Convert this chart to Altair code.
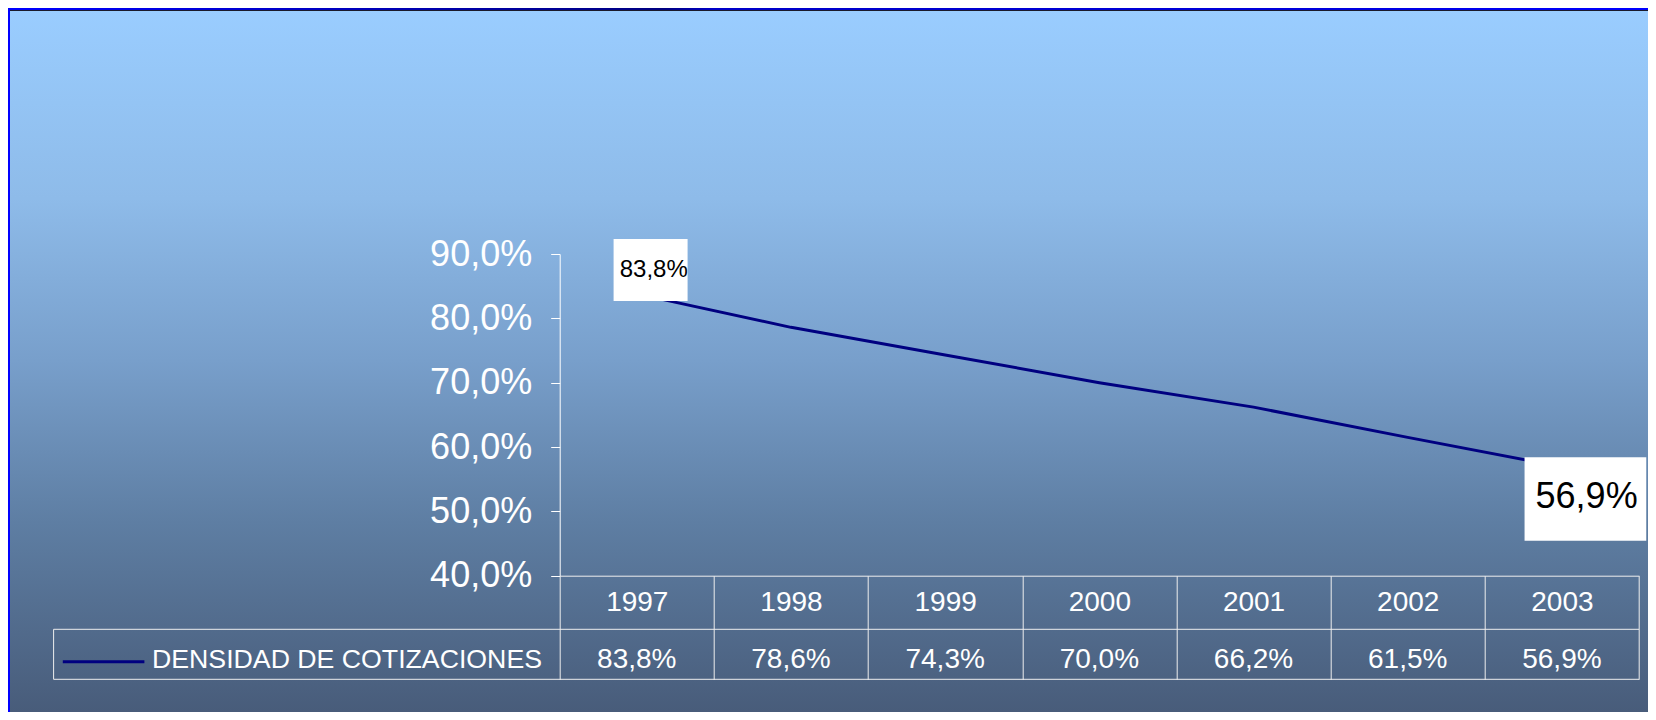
import altair as alt
import pandas as pd

years = ["1997", "1998", "1999", "2000", "2001", "2002", "2003"]
values = [83.8, 78.6, 74.3, 70.0, 66.2, 61.5, 56.9]
series_name = "DENSIDAD DE COTIZACIONES"
y_ticks = [40, 50, 60, 70, 80, 90]

def fmt(v):
    return f"{v:.1f}".replace(".", ",") + "%"

df = pd.DataFrame({"year": years, "value": values, "label": [fmt(v) for v in values]})

W, H = 1079.3, 321.7
PL, PT, PR, PB = 551.7, 246, 9, 136.3
FONT = "Liberation Sans"

xscale = alt.Scale(type="band", domain=years, paddingInner=0, paddingOuter=0)
yscale = alt.Scale(domain=[40, 90])

one = pd.DataFrame({"a": [0]})

bg = alt.Chart(one).mark_rect(
    fill=alt.Gradient(
        gradient="linear", x1=0, x2=0, y1=0, y2=1,
        stops=[
            alt.GradientStop(offset=0, color="#9acdff"),
            alt.GradientStop(offset=0.27, color="#8ebbe9"),
            alt.GradientStop(offset=0.5, color="#789fcb"),
            alt.GradientStop(offset=0.73, color="#5e7ea3"),
            alt.GradientStop(offset=1, color="#485c7a"),
        ],
    )
).encode(x=alt.value(-PL), x2=alt.value(W + PR), y=alt.value(-PT), y2=alt.value(H + PB))

left_strip = alt.Chart(one).mark_rect(color="#0000ff").encode(
    x=alt.value(-PL), x2=alt.value(-PL + 2), y=alt.value(-PT), y2=alt.value(H + PB))
top_strip = alt.Chart(one).mark_rect(
    fill=alt.Gradient(
        gradient="linear", x1=0, x2=1, y1=0, y2=0,
        stops=[
            alt.GradientStop(offset=0, color="#0000ff"),
            alt.GradientStop(offset=0.4, color="#000080"),
            alt.GradientStop(offset=0.43, color="#0000c8"),
            alt.GradientStop(offset=0.8, color="#0000dc"),
            alt.GradientStop(offset=1, color="#0000ff"),
        ],
    )
).encode(x=alt.value(-PL), x2=alt.value(W + PR), y=alt.value(-PT), y2=alt.value(-PT + 2))
top_line = alt.Chart(one).mark_rect(color="#1a1a2a").encode(
    x=alt.value(-PL + 2), x2=alt.value(W + PR), y=alt.value(-PT + 2), y2=alt.value(-PT + 3))

base = alt.Chart(df)

line = base.mark_line(color="#000080", strokeWidth=3).encode(
    x=alt.X("year:N", scale=xscale, sort=years, axis=alt.Axis(
        title=None, orient="bottom", tickBand="extent", tickSize=103.6, tickColor="#eeeeee",
        tickWidth=1, domainColor="#eeeeee", domainWidth=1, labelAngle=0,
        labelFont=FONT, labelFontSize=28, labelColor="white", labelBaseline="alphabetic",
        labelPadding=-69.3, labelAlign="center", zindex=1)),
    y=alt.Y("value:Q", scale=yscale, axis=alt.Axis(
        title=None, values=y_ticks, grid=False, tickColor="white", tickSize=9,
        domainColor="white", labelFont=FONT, labelFontSize=36, labelColor="white",
        labelPadding=19, labelBaseline="middle", zindex=1,
        labelExpr="replace(format(datum.value, '.1f'), '.', ',') + '%'")),
)

box_first = base.transform_filter(alt.datum.year == years[0]).mark_point(
    shape="M-1,-0.838L1,-0.838L1,0.838L-1,0.838Z", filled=True, fill="white",
    opacity=1, strokeWidth=0, size=74 * 74, xOffset=13.8, yOffset=-24,
).encode(x=alt.X("year:N", scale=xscale, sort=years), y=alt.Y("value:Q", scale=yscale))
text_first = base.transform_filter(alt.datum.year == years[0]).mark_text(
    font=FONT, fontSize=24, color="black", align="center", baseline="alphabetic",
    dx=17, dy=-17.2,
).encode(x=alt.X("year:N", scale=xscale, sort=years), y=alt.Y("value:Q", scale=yscale), text="label:N")

box_last = base.transform_filter(alt.datum.year == years[-1]).mark_point(
    shape="M-1,-0.685L1,-0.685L1,0.685L-1,0.685Z", filled=True, fill="white",
    opacity=1, strokeWidth=0, size=121.7 * 121.7, xOffset=23.5, yOffset=32,
).encode(x=alt.X("year:N", scale=xscale, sort=years), y=alt.Y("value:Q", scale=yscale))
text_last = base.transform_filter(alt.datum.year == years[-1]).mark_text(
    font=FONT, fontSize=36, color="black", align="center", baseline="alphabetic",
    dx=24.7, dy=41.3,
).encode(x=alt.X("year:N", scale=xscale, sort=years), y=alt.Y("value:Q", scale=yscale), text="label:N")

row_text = base.mark_text(
    font=FONT, fontSize=28, color="white", align="center", baseline="alphabetic",
).encode(x=alt.X("year:N", scale=xscale, sort=years), y=alt.value(414), text="label:N")

rule_color = "#eeeeee"
h1 = alt.Chart(one).mark_rule(color=rule_color, strokeWidth=1).encode(
    x=alt.value(-506.1), x2=alt.value(W), y=alt.value(375.3))
h2 = alt.Chart(one).mark_rule(color=rule_color, strokeWidth=1).encode(
    x=alt.value(-506.1), x2=alt.value(W), y=alt.value(425.3))
v1 = alt.Chart(one).mark_rule(color=rule_color, strokeWidth=1).encode(
    x=alt.value(-506.1), y=alt.value(375.3), y2=alt.value(425.3))

legend_line = alt.Chart(one).mark_rule(color="#000080", strokeWidth=3).encode(
    x=alt.value(-496.9), x2=alt.value(-415.3), y=alt.value(407.7))
legend_text = alt.Chart(pd.DataFrame({"t": [series_name]})).mark_text(
    font=FONT, fontSize=26.7, color="white", align="right", baseline="alphabetic",
).encode(x=alt.value(-17.7), y=alt.value(414), text="t:N")

chart = alt.layer(
    bg, left_strip, top_strip, top_line,
    h1, h2, v1, legend_line, legend_text,
    line, box_first, text_first, box_last, text_last, row_text,
).properties(
    width=W, height=H,
    autosize=alt.AutoSizeParams(type="none"),
    padding={"left": PL, "top": PT, "right": PR, "bottom": PB},
).configure(background="#6f8fb6").configure_view(stroke=None)

chart.save("out.html", embed_options={"renderer": "svg", "actions": False})
